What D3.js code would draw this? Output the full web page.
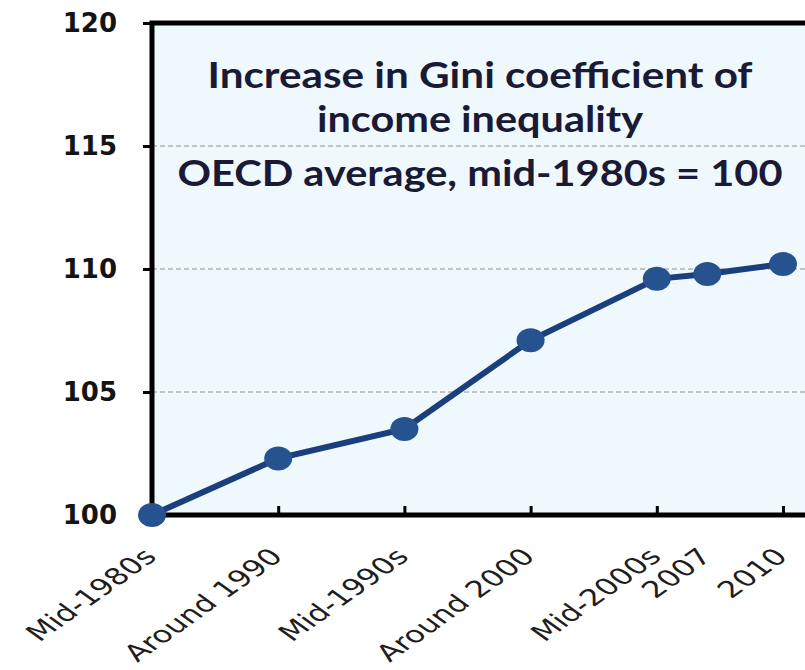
<!DOCTYPE html>
<html>
<head>
<meta charset="utf-8">
<script src="https://cdn.jsdelivr.net/npm/d3@7"></script>
<style>
  body { margin: 0; background: #fff; }
  svg { display: block; }
</style>
</head>
<body>
<div id="chart"></div>
<script>
// chart values
const years = [1985, 1990, 1995, 2000, 2005, 2007, 2010];
const labels = ["Mid-1980s", "Around 1990", "Mid-1990s", "Around 2000", "Mid-2000s", "2007", "2010"];
const giniIndex = [100, 102.3, 103.5, 107.1, 109.6, 109.8, 110.2];
const yTicks = [100, 105, 110, 115, 120];
const xTickYears = [1990, 1995, 2000, 2005, 2010];
const titleLines = ["Increase in Gini coefficient of", "income inequality", "OECD average, mid-1980s = 100"];

const width = 805, height = 670;
const plotLeft = 152, plotRight = 812, plotTop = 23, plotBottom = 515;

const svg = d3.select("#chart")
    .append("svg")
    .attr("width", width)
    .attr("height", height);

let x = d3.scaleLinear()
    .domain([1985, 2010])
    .range([plotLeft, 783]);

let y = d3.scaleLinear()
    .domain([100, 120])
    .range([plotBottom, plotTop]);

// plot background
svg.append("rect")
    .attr("x", plotLeft)
    .attr("y", plotTop)
    .attr("width", plotRight - plotLeft)
    .attr("height", plotBottom - plotTop)
    .attr("fill", "#eff8fc");

// gridlines
svg.selectAll(".grid")
    .data(yTicks.filter(d => d > 100 && d < 120))
    .enter()
    .append("line")
    .attr("x1", plotLeft)
    .attr("x2", plotRight)
    .attr("y1", d => y(d))
    .attr("y2", d => y(d))
    .attr("stroke", "#c2c4c6")
    .attr("stroke-width", 2)
    .attr("stroke-dasharray", "5,3");

// y axis
let yAxis = d3.axisLeft(y)
    .tickValues(yTicks)
    .tickSize(9)
    .tickPadding(26)
    .tickFormat(d3.format("d"));

let gy = svg.append("g")
    .attr("transform", "translate(" + plotLeft + ",0)")
    .call(yAxis);
gy.select(".domain").remove();
gy.selectAll(".tick line").attr("stroke", "#000").attr("stroke-width", 3);
gy.selectAll(".tick text")
    .attr("font-family", "DejaVu Sans")
    .attr("font-weight", "bold")
    .attr("font-size", 26)
    .attr("fill", "#141414");

// x axis, ticks pointing up into the plot
let xAxis = d3.axisBottom(x)
    .tickValues(xTickYears)
    .tickSizeInner(-9)
    .tickSizeOuter(0)
    .tickFormat("");

let gx = svg.append("g")
    .attr("transform", "translate(0," + plotBottom + ")")
    .call(xAxis);
gx.select(".domain").remove();
gx.selectAll(".tick line").attr("stroke", "#000").attr("stroke-width", 3);

// frame: left, top, bottom
svg.append("path")
    .attr("d", "M" + plotRight + "," + plotTop + "H" + plotLeft + "V" + plotBottom + "H" + plotRight)
    .attr("fill", "none")
    .attr("stroke", "#000")
    .attr("stroke-width", 5);

// category labels, rotated and stretched like the source image
svg.selectAll(".xlabel")
    .data(labels)
    .enter()
    .append("text")
    .attr("class", "xlabel")
    .attr("transform", (d, i) => "translate(" + (x(years[i]) + 6) + "," + (plotBottom + 43) + ") scale(1.4,1) rotate(-45)")
    .attr("text-anchor", "end")
    .attr("font-family", "DejaVu Sans")
    .attr("font-size", 23)
    .attr("fill", "#1e1e1e")
    .text(d => d);

// title inside the plot
const titleBase = [88, 132, 186];
const titleWidth = [545, 326, 605];
svg.selectAll(".title")
    .data(titleLines)
    .enter()
    .append("text")
    .attr("class", "title")
    .attr("x", 480)
    .attr("y", (d, i) => titleBase[i])
    .attr("text-anchor", "middle")
    .attr("textLength", (d, i) => titleWidth[i])
    .attr("lengthAdjust", "spacingAndGlyphs")
    .attr("font-family", "Lato")
    .attr("font-weight", "bold")
    .attr("font-size", 36)
    .attr("fill", "#1a1a36")
    .text(d => d);

// line and markers
let line = d3.line()
    .x((d, i) => x(years[i]))
    .y(d => y(d));

svg.append("path")
    .datum(giniIndex)
    .attr("d", line)
    .attr("fill", "none")
    .attr("stroke", "#1b3f7c")
    .attr("stroke-width", 6);

svg.selectAll(".dot")
    .data(giniIndex)
    .enter()
    .append("ellipse")
    .attr("cx", (d, i) => x(years[i]))
    .attr("cy", d => y(d))
    .attr("rx", 14)
    .attr("ry", 12)
    .attr("fill", "#26538f");
</script>
</body>
</html>
